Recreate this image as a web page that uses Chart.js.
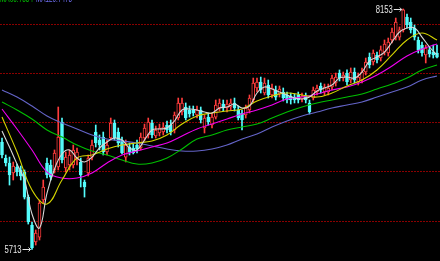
<!DOCTYPE html>
<html>
<head>
<meta charset="utf-8">
<script src="https://cdn.jsdelivr.net/npm/chart.js@4.4.1/dist/chart.umd.min.js"></script>
<style>
  html, body { margin: 0; padding: 0; background: #000; overflow: hidden; }
  canvas { display: block; }
</style>
</head>
<body>
<canvas id="kline" width="440" height="261"></canvas>
<script>
// daily bars (price units)
const opens = [6803,6640,6590,6488,6549,6519,6498,6244,5960,5788,5838,6214,6590,6569,6519,6549,7006,6539,6569,6569,
  6620,6600,6397,6488,6650,6904,6823,6853,6701,6843,6996,6904,6823,6650,6752,6742,6772,6742,6843,6874,
  6996,6864,6894,6904,6975,6975,6925,7046,7107,7158,7128,7128,7077,7128,6945,7056,6975,7056,7148,7188,
  7148,7158,7199,7128,7097,7077,7128,7229,7351,7412,7300,7381,7280,7331,7290,7310,7280,7270,7259,7280,
  7239,7270,7199,7249,7310,7371,7310,7310,7361,7402,7503,7452,7503,7432,7513,7412,7432,7513,7665,7615,
  7686,7655,7716,7706,7838,7868,7868,7940,8071,8021,7960,7838,7787,7686,7737,7716,7706];
const highs = [6843,6671,6650,6600,6579,6559,6519,6265,5991,5910,6214,6417,6640,6620,6722,7158,7046,6701,6722,6772,
  6742,6640,6417,6671,6823,6975,6874,6904,6823,7046,7026,6945,6853,6823,6793,6782,6823,6894,6985,7046,
  7026,6965,6985,6996,7016,7026,7107,7249,7249,7199,7168,7168,7168,7158,7077,7097,7097,7229,7239,7229,
  7229,7239,7249,7168,7128,7178,7280,7452,7452,7462,7452,7432,7391,7371,7371,7351,7310,7300,7290,7310,
  7300,7300,7229,7361,7381,7402,7391,7391,7483,7503,7534,7513,7534,7554,7554,7503,7554,7655,7706,7737,
  7716,7777,7838,7858,7960,8061,7970,8153,8102,8061,7990,7868,7818,7787,7767,7787,7787];
const lows = [6640,6559,6366,6417,6458,6417,6224,5970,5713,5757,5808,6184,6437,6417,6488,6519,6590,6498,6519,6539,
  6569,6346,6244,6458,6620,6752,6722,6671,6671,6823,6823,6752,6681,6600,6671,6681,6691,6722,6813,6843,
  6843,6843,6864,6874,6894,6874,6894,7026,7077,7026,7056,7067,7046,6996,6894,6975,6945,7036,7117,7117,
  7107,7128,7117,7026,6925,7046,7097,7209,7310,7300,7280,7249,7249,7229,7259,7219,7199,7188,7199,7199,
  7209,7199,7087,7229,7280,7300,7280,7280,7331,7371,7422,7422,7381,7402,7402,7381,7402,7483,7554,7584,
  7605,7625,7686,7675,7808,7838,7838,7919,7960,7909,7838,7706,7675,7605,7665,7655,7655];
const closes = [6671,6590,6468,6559,6498,6458,6244,5991,5727,5879,6184,6346,6468,6447,6691,6853,6620,6650,6671,6722,
  6701,6468,6346,6640,6772,6793,6772,6701,6772,6996,6843,6793,6691,6772,6701,6691,6732,6853,6945,7006,
  6874,6925,6945,6955,6925,6904,7077,7199,7199,7046,7087,7097,7128,7026,7046,7006,7056,7178,7199,7148,
  7188,7199,7148,7046,7026,7148,7249,7402,7412,7331,7402,7280,7351,7259,7341,7249,7229,7229,7229,7229,
  7270,7229,7107,7331,7351,7331,7361,7351,7452,7462,7452,7483,7412,7513,7432,7462,7513,7615,7584,7706,
  7635,7737,7797,7818,7919,8021,7940,8143,7990,7940,7868,7737,7706,7757,7696,7686,7665];

// moving averages read at every 2nd bar (ma5) / every 4th bar (others)
const ma5 = [6914,6752,6579,6417,6072,5930,6285,6529,6681,6722,6640,6600,6650,6742,6803,6843,6823,6742,6722,6823,
  6925,6935,6945,7016,7128,7138,7128,7107,7097,7148,7158,7188,7148,7168,7300,7361,7341,7310,7280,7249,
  7239,7259,7320,7351,7381,7452,7462,7452,7513,7625,7665,7716,7818,7919,7960,7960,7868,7767,7686];
const ma10 = [7056,6701,6316,6173,6417,6640,6671,6732,6772,6793,6813,6874,6985,7067,7097,7117,7138,7219,7270,7300,
  7280,7259,7300,7371,7432,7534,7686,7838,7909,7838];
const ma20 = [7138,6935,6722,6498,6437,6437,6488,6590,6671,6711,6752,6793,6864,6935,6985,7036,7087,7128,7178,7239,
  7259,7290,7331,7361,7412,7483,7574,7676,7747,7797];
const ma60 = [7209,7128,7036,6925,6853,6772,6711,6671,6620,6579,6590,6640,6732,6833,6874,6925,6955,6985,7046,7107,
  7158,7199,7229,7259,7290,7341,7391,7452,7534,7584];
const ma120 = [7331,7259,7168,7067,6996,6935,6874,6833,6813,6793,6762,6732,6711,6711,6732,6772,6833,6884,6955,7016,
  7067,7107,7148,7178,7209,7259,7310,7361,7432,7473];

const gridLevels = [6000, 6500, 7000, 7500, 8000];
const legendTexts = ["MA60:7584", "MA120:7473"];

const RED = "#ff3c3c";
const CYAN = "#54fcfc";

const idx = closes.map((_, i) => i);
const up = idx.map(i => closes[i] >= opens[i]);
const bodies = idx.map(i => ({ x: i, y: [opens[i], closes[i]] }));
const wicks = idx.map(i => ({ x: i, y: [lows[i], highs[i]] }));
const maPts = (vals, step) => vals.map((v, k) => ({ x: k * step, y: v }));

const maLine = (label, vals, step, color) => ({
  type: "line",
  label: label,
  data: maPts(vals, step),
  borderColor: color,
  borderWidth: 1.1,
  pointRadius: 0,
  tension: 0.4,
  fill: false,
  order: 0
});

const marks = {
  id: "marks",
  afterDatasetsDraw(chart) {
    const { ctx, scales: { x, y } } = chart;
    const hi = highs.indexOf(Math.max(...highs));
    const lo = lows.indexOf(Math.min(...lows));
    ctx.save();
    ctx.font = '10px "Liberation Sans", sans-serif';
    ctx.textBaseline = "middle";
    ctx.textAlign = "right";
    ctx.fillStyle = "#e6e6e6";
    ctx.strokeStyle = "#e6e6e6";
    ctx.lineWidth = 1;
    [[hi, highs[hi]], [lo, lows[lo]]].forEach(([i, v]) => {
      const px = x.getPixelForValue(i) - 1.5;
      const py = Math.round(y.getPixelForValue(v)) + 0.5;
      ctx.beginPath();
      ctx.moveTo(px - 8, py);
      ctx.lineTo(px, py);
      ctx.moveTo(px - 2, py - 2);
      ctx.lineTo(px, py);
      ctx.lineTo(px - 2, py + 2);
      ctx.stroke();
      ctx.fillText(String(v), px - 9, py + 0.5, 17);
    });
    // legend row, mostly above the top edge
    ctx.textAlign = "left";
    ctx.textBaseline = "alphabetic";
    ctx.fillStyle = "#00c000";
    ctx.fillText(legendTexts[0], 0, 2, 33);
    ctx.fillStyle = "#6e6ef0";
    ctx.fillText(legendTexts[1], 36, 2, 36);
    ctx.restore();
  }
};

new Chart(document.getElementById("kline"), {
  type: "bar",
  data: {
    datasets: [
      maLine("MA5", ma5, 2, "#d8d8d8"),
      maLine("MA10", ma10, 4, "#d4d400"),
      maLine("MA20", ma20, 4, "#f000f0"),
      maLine("MA60", ma60, 4, "#00c000"),
      maLine("MA120", ma120, 4, "#6464c8"),
      {
        type: "bar",
        label: "body",
        data: bodies,
        grouped: false,
        barThickness: 3,
        backgroundColor: up.map(u => u ? "#000" : CYAN),
        borderColor: up.map(u => u ? RED : CYAN),
        borderWidth: 1,
        borderSkipped: false,
        order: 1
      },
      {
        type: "bar",
        label: "wick",
        data: wicks,
        grouped: false,
        barThickness: 1,
        backgroundColor: up.map(u => u ? RED : CYAN),
        borderWidth: 0,
        order: 2
      }
    ]
  },
  options: {
    responsive: false,
    animation: false,
    layout: { padding: 0 },
    plugins: { legend: { display: false }, tooltip: { enabled: false } },
    scales: {
      x: {
        type: "linear",
        min: -0.533,
        max: 116.8,
        offset: false,
        ticks: { display: false },
        grid: { display: false, offset: false },
        border: { display: false },
        afterFit: s => { s.height = 0; }
      },
      y: {
        min: 5595,
        max: 8244,
        ticks: { display: false },
        afterBuildTicks: s => { s.ticks = gridLevels.map(v => ({ value: v })); },
        grid: { drawTicks: false, color: "#8a0000", lineWidth: 1 },
        border: { display: false, dash: [2, 1] },
        afterFit: s => { s.width = 0; }
      }
    }
  },
  plugins: [marks]
});
</script>
</body>
</html>
